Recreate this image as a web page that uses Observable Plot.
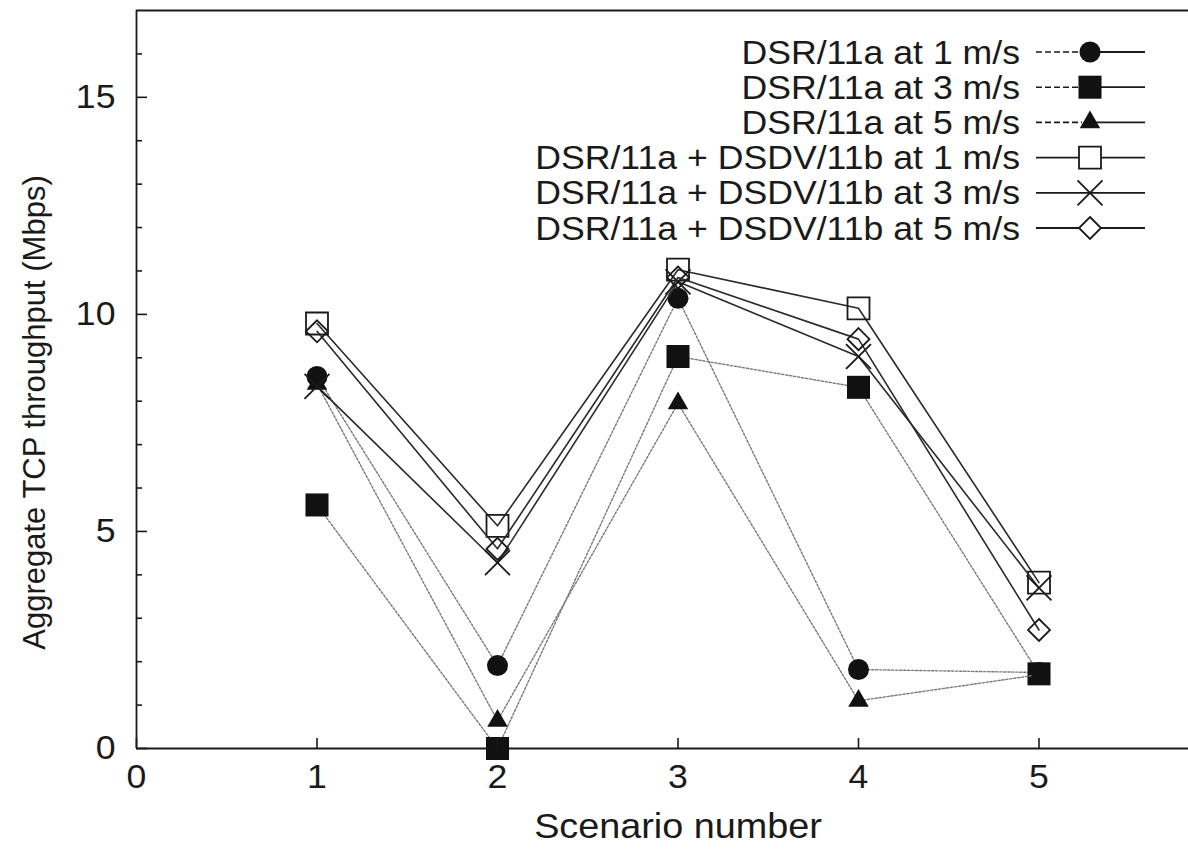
<!DOCTYPE html>
<html><head><meta charset="utf-8">
<script src="https://cdn.jsdelivr.net/npm/d3@7"></script>
<script src="https://cdn.jsdelivr.net/npm/@observablehq/plot@0.6"></script>
<style>
html,body{margin:0;padding:0;background:#fff;overflow:hidden;}
#wrap{position:relative;width:1188px;height:854px;overflow:hidden;}
#wrap svg{display:block;max-width:none !important;height:auto;}
#legend{position:absolute;left:0;top:0;}
</style></head><body><div id="wrap"></div>
<script>
// ---- data ----
const scenarios = [1, 2, 3, 4, 5];
const seriesNames = [
  "DSR/11a at 1 m/s",
  "DSR/11a at 3 m/s",
  "DSR/11a at 5 m/s",
  "DSR/11a + DSDV/11b at 1 m/s",
  "DSR/11a + DSDV/11b at 3 m/s",
  "DSR/11a + DSDV/11b at 5 m/s"
];
const dsr1 = [8.57, 1.91, 10.37, 1.82, 1.75];
const dsr3 = [5.61, 0.0, 9.03, 8.32, 1.72];
const dsr5 = [8.4, 0.64, 7.95, 1.1, 1.7];
const mix1 = [9.79, 5.13, 11.03, 10.14, 3.82];
const mix3 = [8.34, 4.28, 10.75, 9.03, 3.7];
const mix5 = [9.61, 4.6, 10.85, 9.43, 2.73];
const xTicks = [0, 1, 2, 3, 4, 5];
const yTicks = [0, 5, 10, 15];
const yMinorTicks = [1, 2, 3, 4, 6, 7, 8, 9, 11, 12, 13, 14, 16];
const xDomain = [0, 6];
const yDomain = [0, 17];
const xLabel = "Scenario number";
const yLabel = "Aggregate TCP throughput (Mbps)";

// ---- styles ----
const FONT = "Liberation Sans, Arial, Helvetica, sans-serif";
const FS = 33;
const STRETCH = 1.08;
const INK = "#1a1a1a";
const styles = [
  {values: dsr1, symbol: "circle",   r: 10.5, filled: true,  dashed: true},
  {values: dsr3, symbol: "square",   r: 13,   filled: true,  dashed: true},
  {values: dsr5, symbol: "triangle", r: 7.6,  filled: true,  dashed: true},
  {values: mix1, symbol: "square",   r: 12.4, filled: false, dashed: false},
  {values: mix3, symbol: "times",    r: 11.4, filled: false, dashed: false},
  {values: mix5, symbol: "diamond2", r: 9.9,  filled: false, dashed: false}
];

const series = styles.map((s, k) => ({...s, name: seriesNames[k],
  rows: s.values.map((v, i) => ({series: seriesNames[k], x: scenarios[i], y: v}))}));

const marks = [];
for (const s of series) {
  marks.push(Plot.line(s.rows, {
    x: "x", y: "y",
    stroke: s.dashed ? "#7a7a7a" : "#2a2a2a",
    strokeWidth: s.dashed ? 1.4 : 1.6,
    strokeDasharray: s.dashed ? "2.2,1.8" : null
  }));
  marks.push(Plot.dot(s.rows, {
    x: "x", y: "y", symbol: s.symbol, r: s.r,
    fill: s.filled ? "#111" : "none",
    stroke: s.filled ? "none" : "#1a1a1a",
    strokeWidth: 1.8
  }));
}

// the plot area runs past the right edge of the picture (x up to 6)
const W = 1188;
const chart = Plot.plot({
  width: W, height: 854,
  marginLeft: 136, marginRight: -31, marginTop: 10, marginBottom: 106,
  style: {fontFamily: FONT, fontSize: FS + "px", color: INK, background: "#fff", overflow: "hidden"},
  x: {domain: xDomain},
  y: {domain: yDomain},
  marks: [
    // frame: left, top and bottom edges (the right edge lies beyond the picture)
    Plot.ruleX([xDomain[0]], {stroke: INK, strokeWidth: 1.8}),
    Plot.ruleY([yDomain[0], yDomain[1]], {stroke: INK, strokeWidth: 1.8}),
    ...marks,
    Plot.axisY({anchor: "left", ticks: yMinorTicks, tickSize: -6, fill: "none", label: null, strokeWidth: 1.6}),
    Plot.axisY({anchor: "left", ticks: yTicks, tickSize: -11, tickPadding: 32, tickFormat: d3.format("d"),
      label: null, fontSize: FS, strokeWidth: 1.6}),
    Plot.axisX({anchor: "bottom", ticks: xTicks, tickSize: -10, tickPadding: 26, tickFormat: d3.format("d"),
      label: null, fontSize: FS, strokeWidth: 1.6}),
    Plot.text([yLabel], {text: d => d, frameAnchor: "left", textAnchor: "middle", rotate: -90,
      dx: -101, dy: 33, fontSize: 31, fill: INK}),
    Plot.text([xLabel], {text: d => d, frameAnchor: "bottom", textAnchor: "middle", dy: 89,
      fontSize: 35, fill: INK})
  ]
});
document.getElementById("wrap").appendChild(chart);
// slight horizontal stretch of the (unrotated) text, as in the reference rendering
d3.select(chart).selectAll("text").each(function() {
  const t = this.getAttribute("transform") || "";
  if (!/rotate/.test(t)) this.setAttribute("transform", t + ` scale(${STRETCH},1)`);
});

// ---- legend overlay (inside plot, top right) ----
const lg = d3.select("#wrap").append("svg").attr("id", "legend")
  .attr("width", 1188).attr("height", 260)
  .style("font-family", FONT).style("font-size", FS + "px");
const rowY0 = 52, rowDY = 35.2, textRight = 1020, lineX1 = 1036, lineX2 = 1145, markX = 1090;
const symMap = {circle: d3.symbolCircle, square: d3.symbolSquare, triangle: d3.symbolTriangle,
  times: d3.symbolTimes, diamond2: d3.symbolDiamond2};
series.forEach((s, k) => {
  const y = rowY0 + k * rowDY;
  const g = lg.append("g");
  if (s.dashed) {
    g.append("line").attr("x1", lineX1).attr("x2", markX - 8).attr("y1", y).attr("y2", y)
      .attr("stroke", INK).attr("stroke-width", 1.6).attr("stroke-dasharray", "6,3");
    g.append("line").attr("x1", markX).attr("x2", lineX2).attr("y1", y).attr("y2", y)
      .attr("stroke", INK).attr("stroke-width", 1.8);
  } else {
    g.append("line").attr("x1", lineX1).attr("x2", lineX2).attr("y1", y).attr("y2", y)
      .attr("stroke", INK).attr("stroke-width", 1.8);
  }
  g.append("path")
    .attr("transform", `translate(${markX},${y})`)
    .attr("d", d3.symbol(symMap[s.symbol], s.r * s.r * Math.PI)())
    .attr("fill", s.filled ? "#111" : "#fff")
    .attr("stroke", s.filled ? "none" : "#1a1a1a")
    .attr("stroke-width", 1.8);
  g.append("text").attr("text-anchor", "end")
    .attr("transform", `translate(${textRight},${y}) scale(${STRETCH},1)`)
    .attr("dy", "0.35em").attr("fill", INK).text(s.name);
});
</script></body></html>
